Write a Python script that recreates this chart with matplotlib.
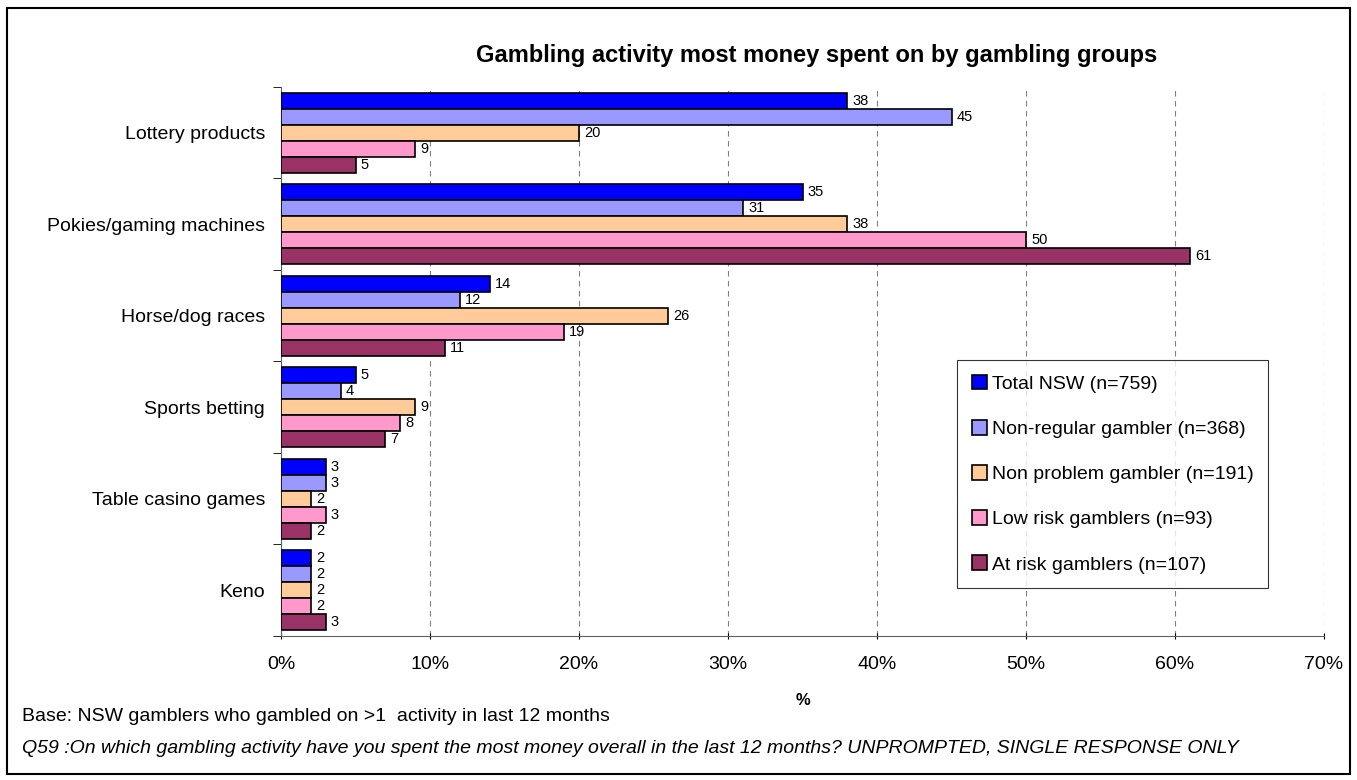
import numpy as np
import matplotlib.pyplot as plt
from matplotlib.patches import Rectangle

plt.rcParams['font.family'] = ['Liberation Sans', 'DejaVu Sans']

categories = ['Lottery products', 'Pokies/gaming machines', 'Horse/dog races',
              'Sports betting', 'Table casino games', 'Keno']
series_names = ['Total NSW (n=759)', 'Non-regular gambler (n=368)',
                'Non problem gambler (n=191)', 'Low risk gamblers (n=93)',
                'At risk gamblers (n=107)']
total_nsw = [38, 35, 14, 5, 3, 2]
non_regular = [45, 31, 12, 4, 3, 2]
non_problem = [20, 38, 26, 9, 2, 2]
low_risk = [9, 50, 19, 8, 3, 2]
at_risk = [5, 61, 11, 7, 2, 3]
colors = ['#0000FF', '#9999FF', '#FFCC99', '#FF99CC', '#993366']

series = [total_nsw, non_regular, non_problem, low_risk, at_risk]

fig = plt.figure(figsize=(13.57, 7.80), dpi=100)
ax = fig.add_axes([0.2071, 0.1846, 0.7686, 0.704])

n_cat = len(categories)
bar_h = 0.175
ypos = np.arange(n_cat)
for i, (vals, col, name) in enumerate(zip(series, colors, series_names)):
    y = ypos - 2 * bar_h + i * bar_h
    ax.barh(y, vals, height=bar_h, color=col, edgecolor='black',
            linewidth=1.2, label=name, zorder=3)
    for yy, v in zip(y, vals):
        ax.text(v + 0.35, yy, str(v), va='center', ha='left', fontsize=10.5, zorder=4)

ax.set_ylim(n_cat - 0.5, -0.5)
ax.set_xlim(0, 70)
ax.set_yticks(ypos)
ax.set_yticklabels(categories, fontsize=14)
ax.set_yticks(np.arange(-0.5, n_cat, 1), minor=True)
ax.tick_params(axis='y', which='major', length=0, pad=11.5)
ax.tick_params(axis='y', which='minor', length=6, direction='out')
ax.set_xticks(np.arange(0, 71, 10))
ax.set_xticklabels([f'{t}%' for t in range(0, 71, 10)], fontsize=14)
ax.tick_params(axis='x', length=5, direction='inout', pad=12)
ax.xaxis.grid(True, linestyle=(0, (5, 4)), color='#808080', linewidth=0.8, zorder=0)
for s in ['top', 'right']:
    ax.spines[s].set_visible(False)
ax.spines['left'].set_color('#606060')
ax.spines['bottom'].set_color('#606060')
ax.set_xlabel('%', fontsize=12, fontweight='bold', labelpad=14)

fig.text(0.602, 0.929, 'Gambling activity most money spent on by gambling groups',
         ha='center', va='center', fontsize=17, fontweight='bold')

# legend box sits inside the plot area, lower right
leg = fig.legend(loc='upper left', bbox_to_anchor=(0.7052, 0.5385),
                 frameon=True, fancybox=False, edgecolor='black', fontsize=14,
                 handlelength=0.8, handleheight=0.8, handletextpad=0.25,
                 labelspacing=1.39, borderpad=0.75, borderaxespad=0)
leg.get_frame().set_linewidth(0.8)

fig.text(0.016, 0.081, 'Base: NSW gamblers who gambled on >1  activity in last 12 months',
         fontsize=14, va='center')
fig.text(0.016, 0.041, 'Q59 :On which gambling activity have you spent the most money overall '
         'in the last 12 months? UNPROMPTED, SINGLE RESPONSE ONLY',
         fontsize=14, va='center', style='italic')

fig.patches.append(Rectangle((0.005, 0.008), 0.99, 0.982, transform=fig.transFigure,
                             fill=False, edgecolor='black', linewidth=1.5))

fig.savefig('out.png', dpi=100)
